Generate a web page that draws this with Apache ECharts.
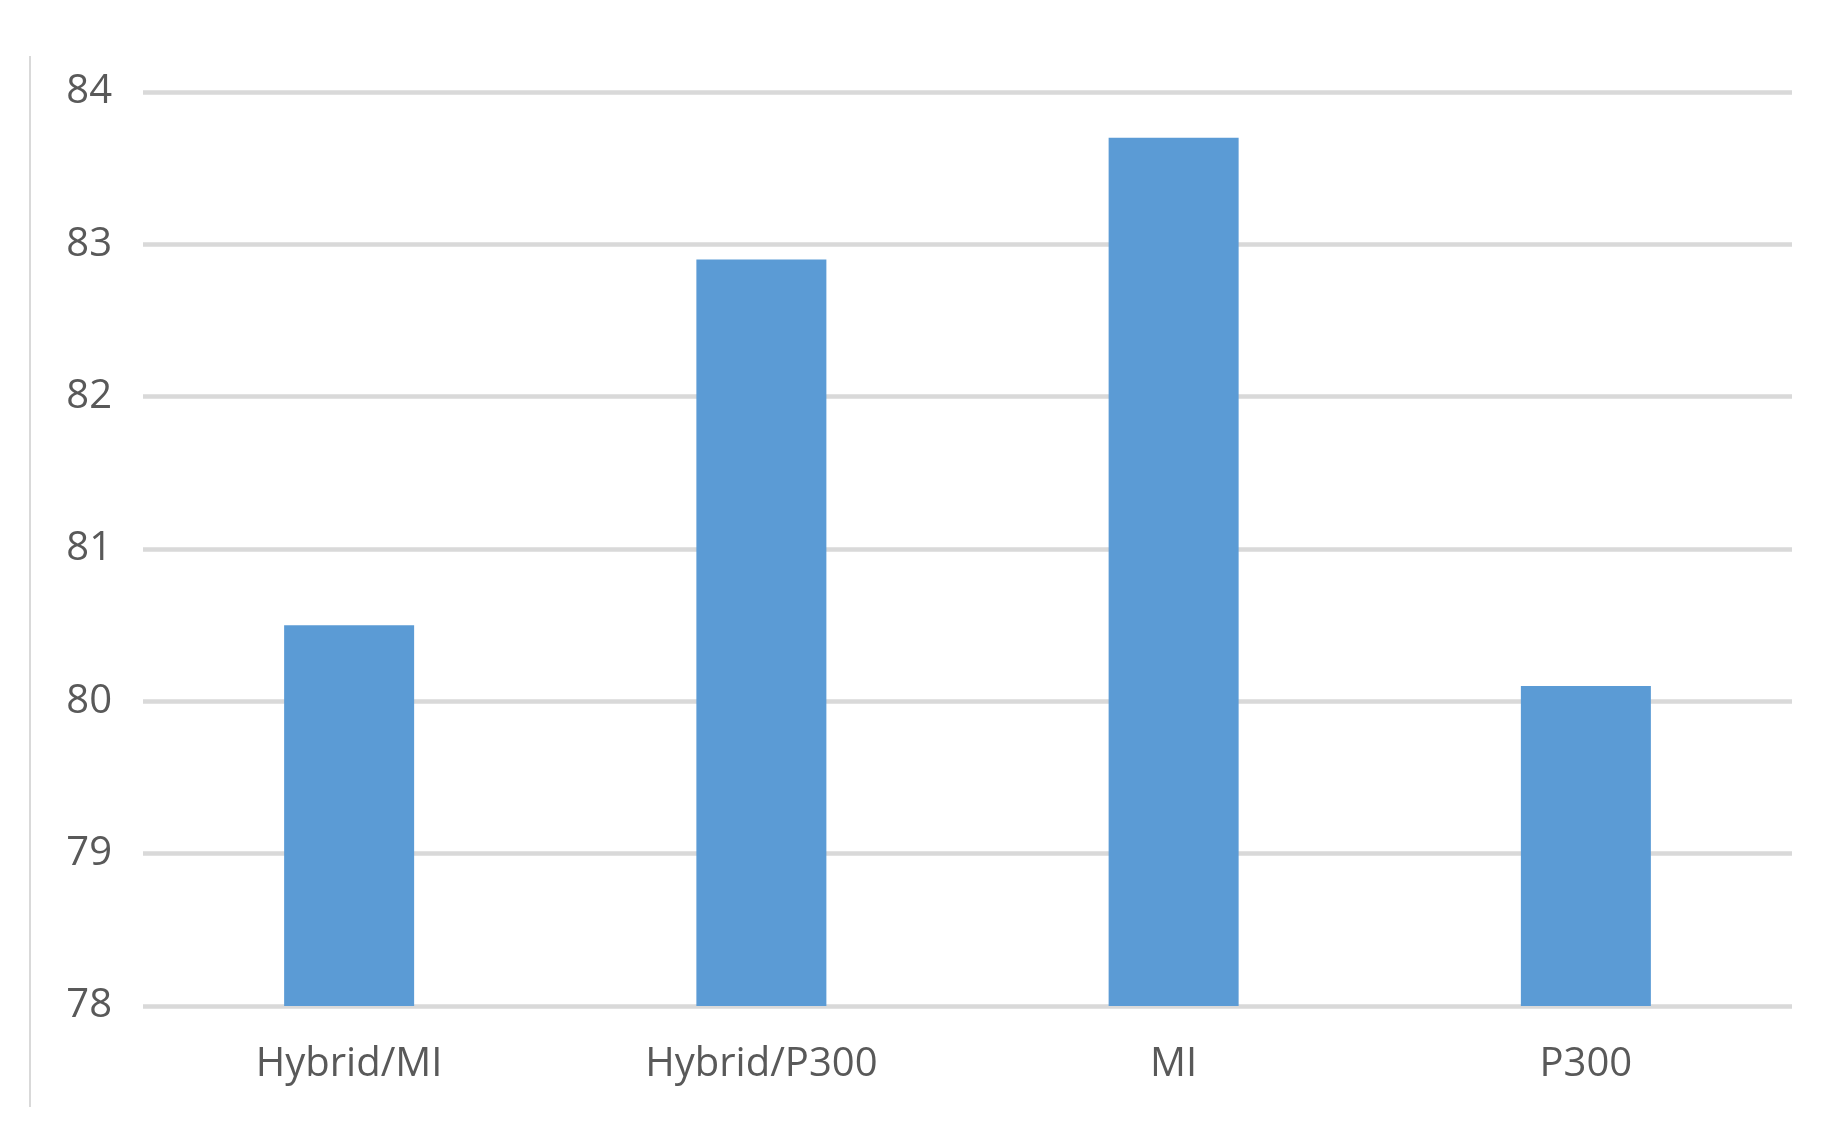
<!DOCTYPE html>
<html>
<head>
<meta charset="utf-8">
<script src="https://cdn.jsdelivr.net/npm/echarts@6/dist/echarts.min.js"></script>
<style>
html,body{margin:0;padding:0;background:#fff;}
#chart{width:1823px;height:1138px;}
</style>
</head>
<body>
<div id="chart"></div>
<script>
var categories = ['Hybrid/MI', 'Hybrid/P300', 'MI', 'P300'];
var values = [80.5, 82.9, 83.7, 80.1];
var yMin = 78, yMax = 84, yStep = 1;

var chart = echarts.init(document.getElementById('chart'));
chart.setOption({
  animation: false,
  backgroundColor: '#ffffff',
  grid: { left: 143, right: 31, top: 92, bottom: 132 },
  graphic: [{
    type: 'line',
    shape: { x1: 30, y1: 56, x2: 30, y2: 1107 },
    style: { stroke: '#d9d9d9', lineWidth: 2 }
  }],
  xAxis: {
    type: 'category',
    data: categories,
    axisLine: { show: false },
    axisTick: { show: false },
    axisLabel: { color: '#595959', fontSize: 40, fontFamily: 'Open Sans', margin: 39 }
  },
  yAxis: {
    type: 'value',
    min: yMin, max: yMax, interval: yStep,
    axisLine: { show: false },
    axisTick: { show: false },
    axisLabel: { color: '#595959', fontSize: 40, fontFamily: 'Open Sans', margin: 31 },
    splitLine: { lineStyle: { color: '#d9d9d9', width: 4.5 } }
  },
  series: [{
    type: 'bar',
    data: values,
    barWidth: 130,
    itemStyle: { color: '#5b9bd5' }
  }]
});
</script>
</body>
</html>
